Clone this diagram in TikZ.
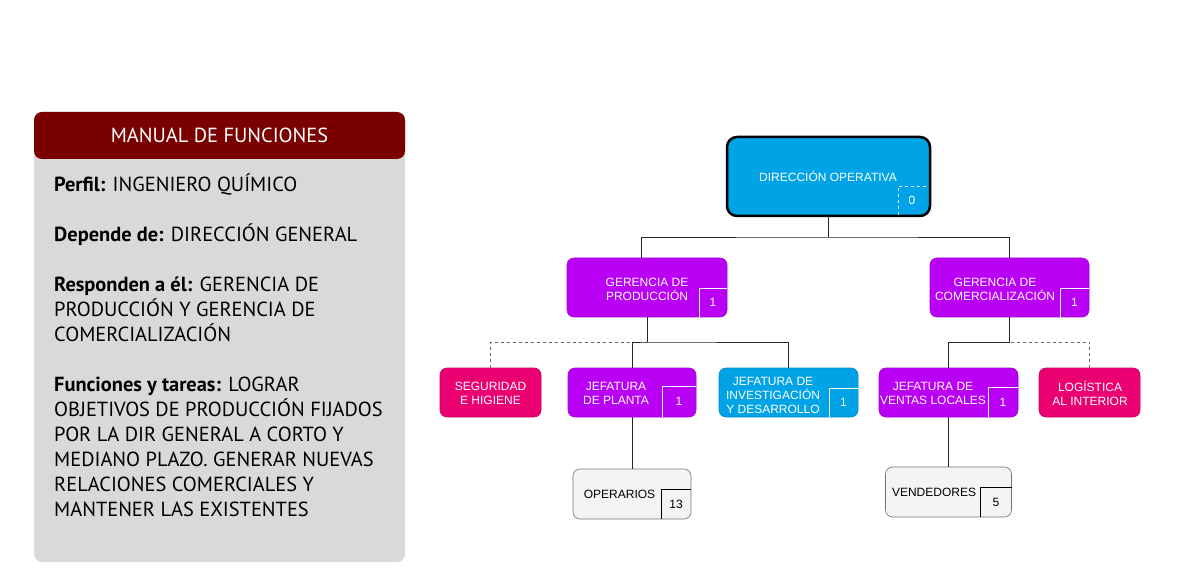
\documentclass[tikz,border=0pt]{standalone}
\usepackage{fontspec}
\setmainfont{PT Sans}
\newfontfamily\chartfont{Liberation Sans}
\usetikzlibrary{positioning,calc}

\definecolor{manualred}{RGB}{122,0,0}
\definecolor{panelgray}{RGB}{217,217,217}
\definecolor{opblue}{RGB}{0,163,230}
\definecolor{gerpurple}{RGB}{185,0,245}
\definecolor{staffpink}{RGB}{234,0,112}
\definecolor{basegray}{RGB}{244,244,244}

\tikzset{
  orgbox/.style={rounded corners=7pt, draw=#1!85!black, fill=#1, line width=0.6pt, outer sep=0pt, inner sep=0pt},
  unittxt/.style={font=\chartfont\fontsize{12}{14}\selectfont, text=white, align=center, inner sep=0pt},
  numbox/.style={anchor=south east, inner sep=0pt, outer sep=0pt, font=\chartfont\fontsize{12}{14}\selectfont, text=white},
  link/.style={draw=black!85, line width=0.7pt},
  staff/.style={draw=black!60, line width=0.7pt, dashed},
  paneltxt/.style={font=\fontsize{20.4}{25}\selectfont, inner sep=0pt}
}

\begin{document}
\begin{tikzpicture}[x=1pt,y=-1pt]
  \useasboundingbox (0,0) rectangle (1178,585);
  % manual de funciones
  \fill[panelgray,rounded corners=8pt] (34,112) rectangle (405,562);
  \fill[manualred,rounded corners=8pt] (34,112) rectangle (405,159);
  \node[paneltxt,text=white] (title) at (219.5,135.5) {MANUAL DE FUNCIONES};
  \node[paneltxt,anchor=north west,align=left] (body) at (54,174) {\textbf{Perfil:} INGENIERO QUÍMICO\\[25pt]
    \textbf{Depende de:} DIRECCIÓN GENERAL\\[25pt]
    \textbf{Responden a él:} GERENCIA DE\\ PRODUCCIÓN Y GERENCIA DE\\ COMERCIALIZACIÓN\\[25pt]
    \textbf{Funciones y tareas:} LOGRAR\\ OBJETIVOS DE PRODUCCIÓN FIJADOS\\ POR LA DIR GENERAL A CORTO Y\\ MEDIANO PLAZO. GENERAR NUEVAS\\ RELACIONES COMERCIALES Y\\ MANTENER LAS EXISTENTES};

  % organigrama
  \node[orgbox=opblue, draw=black, line width=2.5pt, rounded corners=10pt, minimum width=203, minimum height=79] (dir) at (828.5,176.5) {};
  \node[orgbox=gerpurple, minimum width=160, minimum height=59] (gprod) at (647,287.5) {};
  \node[orgbox=gerpurple, minimum width=159, minimum height=59] (gcom) at (1009.5,287.5) {};
  \node[orgbox=staffpink, minimum width=101, minimum height=49] (seg) at (490.5,392.5) {};
  \node[orgbox=gerpurple, minimum width=128, minimum height=49] (jplanta) at (632,392.5) {};
  \node[orgbox=opblue, minimum width=139, minimum height=49] (jinv) at (788.5,392.5) {};
  \node[orgbox=gerpurple, minimum width=139, minimum height=49] (jvent) at (948.5,392.5) {};
  \node[orgbox=staffpink, minimum width=101, minimum height=49] (logi) at (1089.5,392.5) {};
  \node[orgbox=basegray, draw=black!55, minimum width=118, minimum height=50] (oper) at (632,494) {};
  \node[orgbox=basegray, draw=black!55, minimum width=126, minimum height=50] (vend) at (948.5,492) {};

  \draw[link] (dir.south) -- ++(0,21) coordinate (j0);
  \draw[link] ([xshift=-6pt]gprod.north) |- (j0) -| (gcom.north);
  \draw[link] (gprod.south) -- ++(0,25) coordinate (j1);
  \draw[staff] (seg.north) |- (j1);
  \draw[link] (jplanta.north) |- (j1) -| (jinv.north);
  \draw[link] (gcom.south) -- ++(0,25) coordinate (j2);
  \draw[link] (jvent.north) |- (j2);
  \draw[staff] (logi.north) |- (j2);
  \draw[link] (jplanta.south) -- (oper.north);
  \draw[link] (jvent.south) -- (vend.north);

  \node[unittxt] (dir-t) at (828,176) {DIRECCIÓN OPERATIVA};
  \node[unittxt] (gprod-t) at (647,289) {GERENCIA DE\\PRODUCCIÓN};
  \node[unittxt] (gcom-t) at (995,289) {GERENCIA DE\\COMERCIALIZACIÓN};
  \node[unittxt] (seg-t) at (490.5,393) {SEGURIDAD\\E HIGIENE};
  \node[unittxt] (jplanta-t) at (616,393) {JEFATURA\\DE PLANTA};
  \node[unittxt] (jinv-t) at (773,395) {JEFATURA DE\\INVESTIGACIÓN\\Y DESARROLLO};
  \node[unittxt] (jvent-t) at (933,393.5) {JEFATURA DE\\VENTAS LOCALES};
  \node[unittxt] (logi-t) at (1090,393) {LOGÍSTICA\\AL INTERIOR};
  \node[unittxt,text=black] (oper-t) at (619.5,494) {OPERARIOS};
  \node[unittxt,text=black] (vend-t) at (934,492) {VENDEDORES};

  % casillas de dotacion
  \node[numbox, minimum width=28, minimum height=29] (dir-n) at ([shift={(-4pt,1pt)}]dir.south east) {0};
  \node[numbox, minimum width=28, minimum height=29] (gprod-n) at (gprod.south east) {1};
  \node[numbox, minimum width=29, minimum height=29] (gcom-n) at (gcom.south east) {1};
  \node[numbox, minimum width=34, minimum height=31] (jplanta-n) at (jplanta.south east) {1};
  \node[numbox, minimum width=29, minimum height=29] (jinv-n) at (jinv.south east) {1};
  \node[numbox, minimum width=30, minimum height=30] (jvent-n) at (jvent.south east) {1};
  \node[numbox, minimum width=30, minimum height=30, text=black] (oper-n) at (oper.south east) {13};
  \node[numbox, minimum width=31, minimum height=30, text=black] (vend-n) at (vend.south east) {5};
  \draw[white, dashed, line width=0.6pt] (dir-n.south west) |- (dir-n.north east);
  \foreach \n in {gprod,gcom,jplanta,jinv,jvent}
    \draw[white, line width=0.6pt] (\n-n.south west) |- (\n-n.north east);
  \foreach \n in {oper,vend}
    \draw[black, line width=0.6pt] (\n-n.south west) |- (\n-n.north east);
\end{tikzpicture}
\end{document}
